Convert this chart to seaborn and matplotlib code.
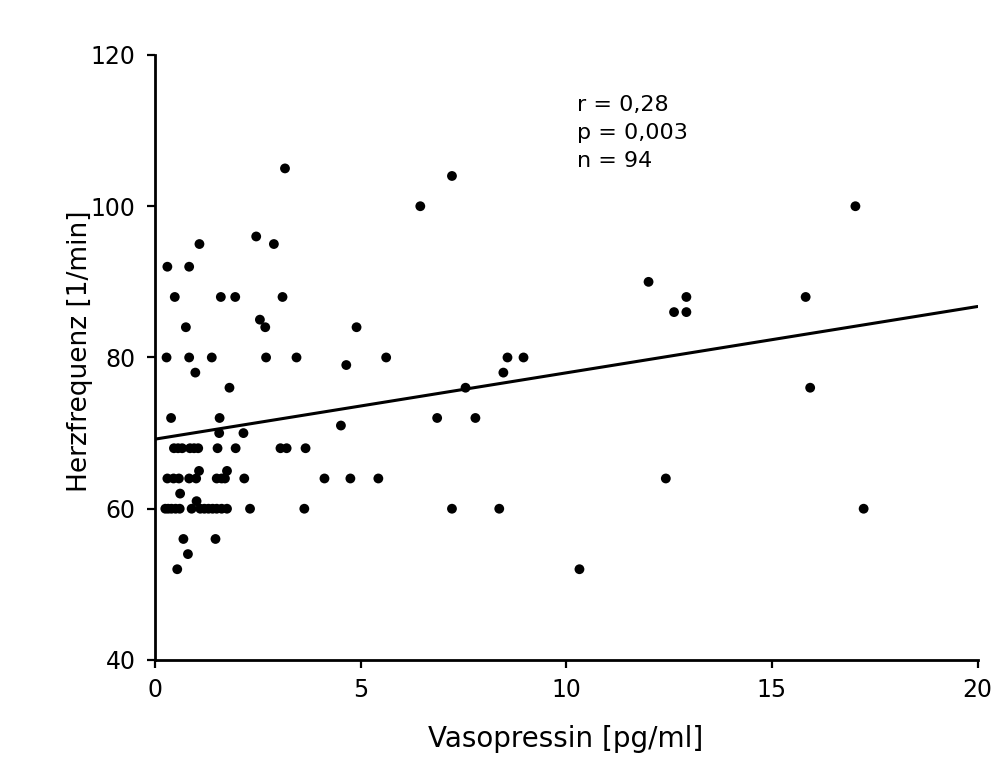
import numpy as np
import pandas as pd
import matplotlib
matplotlib.use("Agg")
import matplotlib.pyplot as plt
import seaborn as sns

# values, grouped by heart rate row
vaso = [
    3.16, 7.22, 6.45, 17.03, 2.46, 1.08, 2.89, 0.30, 0.83, 12.0,
    0.48, 1.60, 1.95, 3.10, 12.92, 15.82, 12.62, 12.92, 2.55,
    0.75, 2.68, 4.90,
    0.28, 0.83, 1.38, 2.70, 3.44, 5.62, 8.57, 8.96, 4.65, 0.98, 8.47,
    1.81, 7.55, 15.93, 0.39, 1.57, 6.86, 7.79, 4.52, 1.56, 2.15,
    0.46, 0.56, 0.66, 0.85, 0.95, 1.05, 1.52, 1.96, 3.05, 3.20, 3.66,
    1.07, 1.75,
    0.30, 0.45, 0.58, 0.83, 1.00, 1.50, 1.62, 1.70, 2.17, 4.12, 4.75, 5.43, 12.42,
    0.61, 1.01,
    0.25, 0.32, 0.40, 0.50, 0.60, 0.89, 1.10, 1.20, 1.30, 1.40, 1.50, 1.62, 1.75,
    2.31, 3.63, 7.22, 8.37, 17.23,
    0.69, 1.47, 0.80, 0.54, 10.32,
]
herzfreq = [
    105, 104, 100, 100, 96, 95, 95, 92, 92, 90,
    88, 88, 88, 88, 88, 88, 86, 86, 85,
    84, 84, 84,
    80, 80, 80, 80, 80, 80, 80, 80, 79, 78, 78,
    76, 76, 76, 72, 72, 72, 72, 71, 70, 70,
    68, 68, 68, 68, 68, 68, 68, 68, 68, 68, 68,
    65, 65,
    64, 64, 64, 64, 64, 64, 64, 64, 64, 64, 64, 64, 64,
    62, 61,
    60, 60, 60, 60, 60, 60, 60, 60, 60, 60, 60, 60, 60,
    60, 60, 60, 60, 60,
    56, 56, 54, 52, 52,
]

# regression line as printed
fit_intercept = 69.2
fit_slope = 0.877
x_range = [0, 20]

stats_lines = ["r = 0,28", "p = 0,003", "n = 94"]

df = pd.DataFrame({"Vasopressin": vaso, "Herzfrequenz": herzfreq})
line_x = np.array(x_range, dtype=float)
df_line = pd.DataFrame({"x": line_x, "y": fit_intercept + fit_slope * line_x})

sns.set_theme(style="ticks")
plt.rcParams['font.family'] = ['DejaVu Sans']

fig = plt.figure(figsize=(10.08, 7.71), dpi=100)
ax = fig.add_axes([0.1538, 0.144, 0.816, 0.7847])

sns.scatterplot(data=df, x="Vasopressin", y="Herzfrequenz", color="black",
                s=50, edgecolor="none", ax=ax, zorder=3)
sns.lineplot(data=df_line, x="x", y="y", color="black", linewidth=2.2, ax=ax)

ax.set_xlim(0, 20)
ax.set_ylim(40, 120)
ax.set_xticks([0, 5, 10, 15, 20])
ax.set_yticks([40, 60, 80, 100, 120])
ax.tick_params(axis="both", length=6, width=1.6, labelsize=17, color="black",
               labelcolor="black")
ax.tick_params(axis="x", pad=7)
ax.tick_params(axis="y", pad=8)
for s in ["left", "bottom"]:
    ax.spines[s].set_linewidth(2)
    ax.spines[s].set_color("black")
sns.despine(ax=ax)

ax.set_xlabel("Vasopressin [pg/ml]", fontsize=20, color="black")
ax.set_ylabel("Herzfrequenz [1/min]", fontsize=19, color="black")
ax.xaxis.set_label_coords(0.499, -0.108)
ax.yaxis.set_label_coords(-0.076, 0.51)

for i, t in enumerate(stats_lines):
    ax.text(0.513, 0.918 - i * 0.047, t, transform=ax.transAxes,
            fontsize=16, va="center", ha="left", color="black")

fig.savefig("out.png", dpi=100, facecolor="white")
